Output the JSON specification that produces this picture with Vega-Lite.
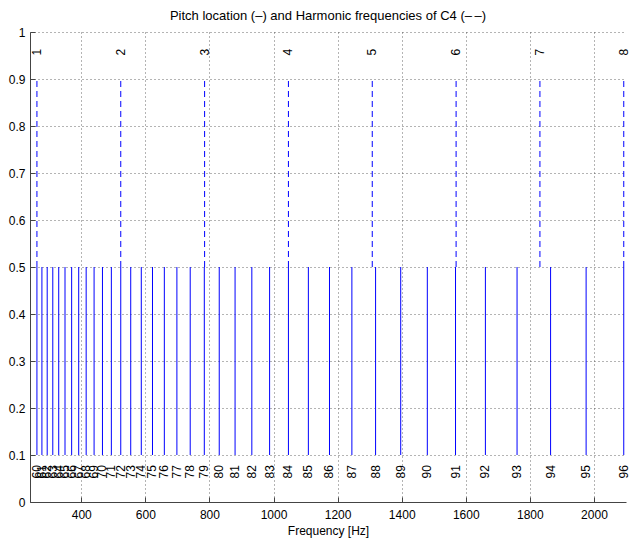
{
  "$schema": "https://vega.github.io/schema/vega-lite/v6.json",
  "autosize": "none",
  "width": 596,
  "height": 470,
  "padding": {"left": 30, "top": 32, "right": 7, "bottom": 37},
  "background": "white",
  "title": {"text": "Pitch location (–) and Harmonic frequencies of C4 (–\u2009–)", "font": "Liberation Sans", "fontSize": 13, "fontWeight": "normal", "color": "#000", "offset": 3},
  "config": {
    "view": {"stroke": null},
    "font": "Liberation Sans",
    "axis": {"labelFont": "Liberation Sans", "titleFont": "Liberation Sans", "labelFontSize": 12, "titleFontSize": 12, "titleFontWeight": "normal", "labelColor": "#000", "titleColor": "#000", "domainColor": "#444", "tickColor": "#444", "gridColor": "#444", "gridDash": [1, 3], "gridOpacity": 0.8, "tickSize": -5}
  },
  "datasets": {
    "pitches": [
      {"midi": 60, "freq": 261.63}, {"midi": 61, "freq": 277.18}, {"midi": 62, "freq": 293.66}, {"midi": 63, "freq": 311.13},
      {"midi": 64, "freq": 329.63}, {"midi": 65, "freq": 349.23}, {"midi": 66, "freq": 369.99}, {"midi": 67, "freq": 392.0},
      {"midi": 68, "freq": 415.3}, {"midi": 69, "freq": 440.0}, {"midi": 70, "freq": 466.16}, {"midi": 71, "freq": 493.88},
      {"midi": 72, "freq": 523.25}, {"midi": 73, "freq": 554.37}, {"midi": 74, "freq": 587.33}, {"midi": 75, "freq": 622.25},
      {"midi": 76, "freq": 659.26}, {"midi": 77, "freq": 698.46}, {"midi": 78, "freq": 739.99}, {"midi": 79, "freq": 783.99},
      {"midi": 80, "freq": 830.61}, {"midi": 81, "freq": 880.0}, {"midi": 82, "freq": 932.33}, {"midi": 83, "freq": 987.77},
      {"midi": 84, "freq": 1046.5}, {"midi": 85, "freq": 1108.73}, {"midi": 86, "freq": 1174.66}, {"midi": 87, "freq": 1244.51},
      {"midi": 88, "freq": 1318.51}, {"midi": 89, "freq": 1396.91}, {"midi": 90, "freq": 1479.98}, {"midi": 91, "freq": 1567.98},
      {"midi": 92, "freq": 1661.22}, {"midi": 93, "freq": 1760.0}, {"midi": 94, "freq": 1864.66}, {"midi": 95, "freq": 1975.53},
      {"midi": 96, "freq": 2093.0}
    ],
    "harmonics": [
      {"k": 1, "freq": 261.63}, {"k": 2, "freq": 523.25}, {"k": 3, "freq": 784.88}, {"k": 4, "freq": 1046.5},
      {"k": 5, "freq": 1308.13}, {"k": 6, "freq": 1569.76}, {"k": 7, "freq": 1831.38}, {"k": 8, "freq": 2093.0}
    ]
  },
  "layer": [
    {
      "data": {"name": "pitches"},
      "mark": {"type": "rule", "color": "#0000ff", "strokeWidth": 1},
      "encoding": {
        "x": {"field": "freq", "type": "quantitative", "scale": {"domain": [240, 2100], "nice": false, "zero": false},
          "axis": {"title": "Frequency [Hz]", "values": [400, 600, 800, 1000, 1200, 1400, 1600, 1800, 2000], "format": "d", "grid": true, "labelPadding": 12, "titlePadding": 5, "domain": true}},
        "y": {"datum": 0.1, "type": "quantitative", "scale": {"domain": [0, 1], "nice": false},
          "axis": {"title": null, "values": [0, 0.1, 0.2, 0.3, 0.4, 0.5, 0.6, 0.7, 0.8, 0.9, 1], "format": "~g", "grid": true, "labelPadding": 10}},
        "y2": {"datum": 0.5}
      }
    },
    {
      "data": {"name": "harmonics"},
      "mark": {"type": "rule", "color": "#0000ff", "strokeWidth": 1, "strokeDash": [6, 4]},
      "encoding": {
        "x": {"field": "freq", "type": "quantitative"},
        "y": {"datum": 0.5, "type": "quantitative"},
        "y2": {"datum": 0.9}
      }
    },
    {
      "data": {"name": "pitches"},
      "mark": {"type": "text", "angle": 270, "align": "left", "baseline": "middle", "fontSize": 12, "color": "#000", "font": "Liberation Sans"},
      "encoding": {
        "x": {"field": "freq", "type": "quantitative"},
        "y": {"datum": 0.05, "type": "quantitative"},
        "text": {"field": "midi", "type": "quantitative"}
      }
    },
    {
      "data": {"name": "harmonics"},
      "mark": {"type": "text", "angle": 270, "align": "left", "baseline": "middle", "fontSize": 12, "color": "#000", "font": "Liberation Sans"},
      "encoding": {
        "x": {"field": "freq", "type": "quantitative"},
        "y": {"datum": 0.95, "type": "quantitative"},
        "text": {"field": "k", "type": "quantitative"}
      }
    }
  ]
}
